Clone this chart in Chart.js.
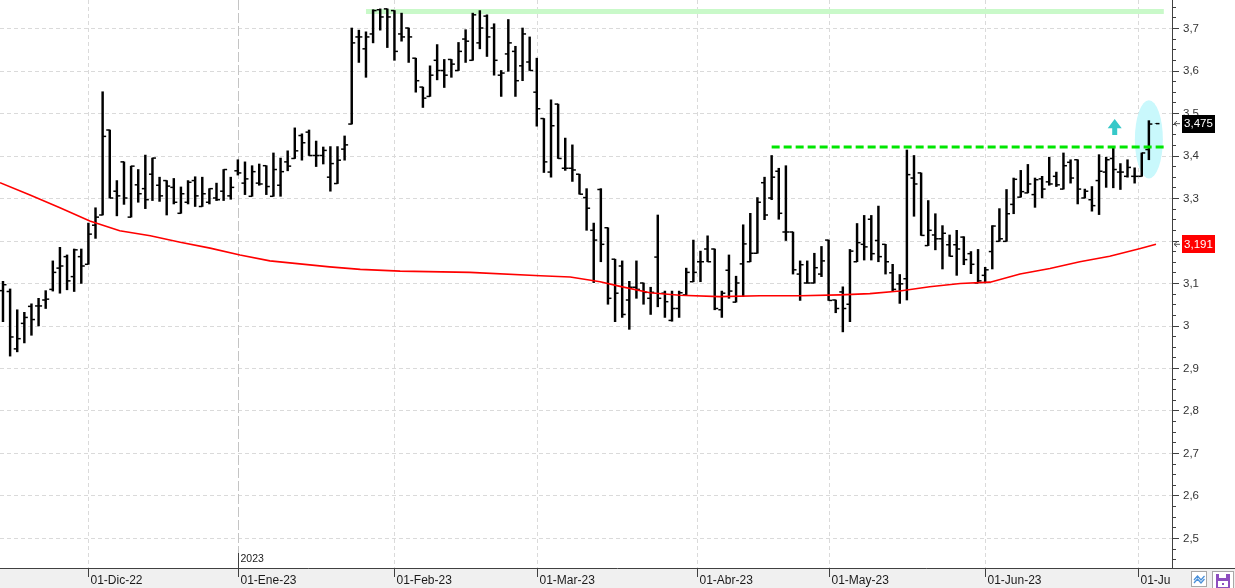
<!DOCTYPE html>
<html><head><meta charset="utf-8">
<script src="https://cdn.jsdelivr.net/npm/chart.js@4.4.0/dist/chart.umd.min.js"></script>
<style>html,body{margin:0;padding:0;background:#fff;overflow:hidden}canvas{display:block}</style>
</head><body>
<canvas id="c" width="1235" height="588"></canvas>
<script>
// ---- data (trading-day index 0 = first bar on the chart) ----
const openP = [3.082,3.080,2.945,3.005,3.045,3.046,3.060,3.085,3.135,3.162,
3.115,3.162,3.144,3.236,3.260,3.460,3.316,3.385,3.255,3.331,
3.322,3.356,3.330,3.341,3.325,3.264,3.290,3.341,3.280,3.290,
3.300,3.316,3.305,3.364,3.335,3.304,3.335,3.376,3.304,3.330,
3.385,3.393,3.447,3.455,3.400,3.400,3.349,3.334,3.415,3.474,
3.679,3.651,3.686,3.743,3.745,3.741,3.686,3.700,3.629,3.561,
3.539,3.624,3.600,3.626,3.600,3.674,3.624,3.665,3.728,3.700,
3.589,3.639,3.645,3.611,3.620,3.549,3.487,3.361,3.521,3.370,
3.370,3.356,3.301,3.224,3.320,3.230,3.156,3.140,3.060,3.090,
3.100,3.064,3.161,3.076,3.012,3.040,3.072,3.103,3.150,3.180,
3.180,3.037,3.130,3.055,3.145,3.150,3.170,3.336,3.300,3.363,
3.220,3.220,3.121,3.100,3.100,3.121,3.201,3.060,3.079,3.050,
3.150,3.191,3.250,3.200,3.191,3.124,3.098,3.110,3.347,3.359,
3.188,3.213,3.204,3.190,3.190,3.208,3.169,3.100,3.118,3.174,
3.198,3.198,3.285,3.302,3.312,3.308,3.345,3.338,3.351,3.321,
3.384,3.390,3.300,3.296,3.341,3.361,3.393,3.361,3.351,3.351,
3.351,3.414,null];
const highP = [3.104,3.086,3.037,3.031,3.051,3.064,3.082,3.152,3.184,3.166,
3.180,3.180,3.241,3.277,3.550,3.460,3.341,3.385,3.375,3.367,
3.401,3.394,3.349,3.341,3.346,3.326,3.341,3.350,3.349,3.322,
3.335,3.367,3.349,3.390,3.385,3.376,3.380,3.376,3.406,3.394,
3.411,3.465,3.451,3.460,3.434,3.420,3.421,3.421,3.446,3.700,
3.695,3.691,3.743,3.745,3.745,3.741,3.735,3.700,3.629,3.561,
3.611,3.661,3.626,3.626,3.666,3.696,3.735,3.741,3.731,3.710,
3.600,3.720,3.657,3.700,3.679,3.629,3.487,3.531,3.521,3.441,
3.425,3.356,3.322,3.241,3.322,3.230,3.156,3.152,3.104,3.152,
3.100,3.090,3.260,3.081,3.081,3.081,3.135,3.201,3.175,3.211,
3.180,3.081,3.166,3.116,3.237,3.264,3.301,3.349,3.400,3.370,
3.376,3.220,3.152,3.152,3.170,3.186,3.201,3.060,3.091,3.179,
3.240,3.259,3.259,3.281,3.191,3.144,3.120,3.413,3.400,3.359,
3.294,3.263,3.235,3.213,3.224,3.209,3.174,3.179,3.137,3.235,
3.275,3.320,3.347,3.365,3.379,3.347,3.351,3.396,3.361,3.406,
3.390,3.390,3.321,3.327,3.402,3.396,3.418,3.381,3.390,3.371,
3.406,3.482,3.475];
const lowP = [3.009,2.928,2.938,2.959,2.977,2.999,3.040,3.081,3.076,3.084,
3.080,3.099,3.144,3.205,3.260,3.300,3.258,3.285,3.255,3.290,
3.275,3.294,3.292,3.260,3.286,3.264,3.286,3.280,3.280,3.286,
3.294,3.294,3.297,3.354,3.308,3.304,3.330,3.308,3.304,3.304,
3.364,3.393,3.389,3.400,3.374,3.380,3.316,3.334,3.389,3.474,
3.619,3.584,3.665,3.695,3.654,3.624,3.669,3.619,3.549,3.513,
3.539,3.578,3.560,3.584,3.600,3.619,3.624,3.651,3.633,3.589,
3.539,3.598,3.539,3.576,3.600,3.469,3.360,3.349,3.393,3.365,
3.339,3.309,3.224,3.101,3.150,3.050,3.009,3.019,2.991,3.064,
3.050,3.026,3.044,3.019,3.010,3.019,3.072,3.103,3.103,3.150,
3.037,3.019,3.064,3.055,3.068,3.150,3.170,3.249,3.296,3.250,
3.200,3.121,3.059,3.100,3.100,3.115,3.059,3.030,2.985,3.009,
3.150,3.154,3.154,3.150,3.121,3.082,3.052,3.060,3.257,3.212,
3.188,3.178,3.133,3.163,3.118,3.143,3.122,3.100,3.100,3.133,
3.198,3.198,3.263,3.302,3.312,3.278,3.300,3.330,3.327,3.321,
3.335,3.286,3.300,3.269,3.261,3.325,3.324,3.320,3.349,3.335,
3.351,3.390,3.475];
const closeP = [3.096,2.973,2.969,3.019,3.014,3.046,3.062,3.125,3.140,3.105,
3.178,3.140,3.215,3.255,3.445,3.300,3.305,3.300,3.375,3.310,
3.296,3.394,3.305,3.328,3.290,3.310,3.337,3.305,3.310,3.322,
3.296,3.367,3.325,3.359,3.345,3.362,3.333,3.327,3.367,3.362,
3.375,3.411,3.430,3.400,3.400,3.412,3.381,3.389,3.425,3.665,
3.679,3.679,3.741,3.726,3.726,3.645,3.679,3.679,3.576,3.535,
3.589,3.600,3.589,3.615,3.645,3.669,3.731,3.700,3.679,3.624,
3.594,3.665,3.576,3.686,3.600,3.510,3.385,3.470,3.393,3.370,
3.366,3.309,3.276,3.201,3.191,3.064,3.076,3.026,3.090,3.085,
3.078,3.078,3.064,3.056,3.040,3.077,3.125,3.125,3.150,3.150,
3.040,3.076,3.081,3.100,3.192,3.170,3.290,3.260,3.349,3.264,
3.220,3.131,3.143,3.100,3.136,3.152,3.059,3.040,3.040,3.175,
3.195,3.185,3.169,3.162,3.150,3.085,3.098,3.355,3.333,3.212,
3.224,3.204,3.217,3.163,3.180,3.155,3.144,3.105,3.131,3.234,
3.204,3.263,3.344,3.315,3.333,3.343,3.321,3.333,3.331,3.376,
3.347,3.321,3.316,3.282,3.363,3.390,3.367,3.361,3.372,3.351,
3.406,3.474,3.475];

// moving average (red), read at sampled positions
const maIdx = [-0.42,3.8,8.0,12.2,16.4,20.7,24.9,29.1,33.3,37.5,41.7,45.9,50.2,55.8,65.6,
75.5,79.7,83.9,86.7,90.9,95.1,100.7,106.4,112,117.6,121.8,126,130.2,134.5,138.7,142.9,147.1,151.3,155.5,159.8,162];
const maVal = [3.336,3.307,3.277,3.246,3.223,3.211,3.196,3.182,3.166,3.152,3.145,3.138,3.132,3.128,3.125,
3.117,3.114,3.103,3.092,3.077,3.071,3.068,3.070,3.070,3.072,3.075,3.081,3.091,3.099,3.102,3.121,3.134,3.150,3.163,3.181,3.191];

// x-axis month marks (trading-day index) and labels
const monthIdx = [12, 33, 55, 75, 97.5, 116, 138, 159.5];
const monthLabels = ['01-Dic-22','01-Ene-23','01-Feb-23','01-Mar-23','01-Abr-23','01-May-23','01-Jun-23','01-Jul-23'];
const yearIdx = 33;
const yearLabel = '2023';

// y-axis labelled ticks
const yTickVals = [2.5,2.6,2.7,2.8,2.9,3.0,3.1,3.2,3.3,3.4,3.5,3.6,3.7];

// annotations (data coordinates)
const topBandIdx = [51, 163.1];
const topBandVal = [3.739, 3.739];
const resistIdx = [108, 163.1];
const resistVal = [3.42, 3.42];
const lastPrice = 3.475;
const lastMA = 3.191;
const arrowIdx = 156.2;
const arrowVals = [3.486, 3.464, 3.448]; // tip, head base, stem bottom
const ellipseIdx = 161;
const ellipseVals = [3.438, 0.092]; // centre, half height

// ---- build ----
const FONT = '"Liberation Sans", Arial, sans-serif';
const rangeData = highP.map((h, i) => ({x: i, y: [lowP[i], h]}));
const openData = openP.map((v, i) => ({x: i, y: v}));
const closeData = closeP.map((v, i) => ({x: i, y: v}));
const maData = maIdx.map((x, i) => ({x, y: maVal[i]}));
const bandData = topBandIdx.map((x, i) => ({x, y: topBandVal[i]}));
const resData = resistIdx.map((x, i) => ({x, y: resistVal[i]}));

function fmt(v) { return String(Number(v.toFixed(3))).replace('.', ','); }

const decor = {
  id: 'decor',
  beforeDatasetsDraw(chart) {
    const {ctx, chartArea: a, scales: {x, y}} = chart;
    ctx.save();
    ctx.lineWidth = 1;
    ctx.strokeStyle = '#dadada';
    ctx.setLineDash([4, 3]);
    for (const v of yTickVals) {
      const py = Math.round(y.getPixelForValue(v)) + 0.5;
      ctx.beginPath(); ctx.moveTo(a.left, py); ctx.lineTo(a.right, py); ctx.stroke();
    }
    monthIdx.forEach(m => {
      if (m === yearIdx) return;
      const px = Math.round(x.getPixelForValue(m)) + 0.5;
      ctx.beginPath(); ctx.moveTo(px, a.top); ctx.lineTo(px, a.bottom); ctx.stroke();
    });
    ctx.strokeStyle = '#c4c4c4';
    ctx.setLineDash([10, 3]);
    const yx = Math.round(x.getPixelForValue(yearIdx)) + 0.5;
    ctx.beginPath(); ctx.moveTo(yx, a.top); ctx.lineTo(yx, a.bottom); ctx.stroke();
    ctx.setLineDash([]);
    // highlight ellipse
    const ex = x.getPixelForValue(ellipseIdx), ey = y.getPixelForValue(ellipseVals[0]);
    const ry = y.getPixelForValue(ellipseVals[0] - ellipseVals[1]) - ey;
    ctx.fillStyle = '#c9f8fc';
    ctx.beginPath(); ctx.ellipse(ex, ey, 14, ry, 0, 0, Math.PI * 2); ctx.fill();
    ctx.restore();
  },
  afterDatasetsDraw(chart) {
    const {ctx, scales: {x, y}} = chart;
    const cx = x.getPixelForValue(arrowIdx);
    const t = y.getPixelForValue(arrowVals[0]), b = y.getPixelForValue(arrowVals[1]), s = y.getPixelForValue(arrowVals[2]);
    ctx.save();
    ctx.fillStyle = '#35c8c8';
    ctx.beginPath();
    ctx.moveTo(cx, t); ctx.lineTo(cx + 7, b); ctx.lineTo(cx + 2.5, b); ctx.lineTo(cx + 2.5, s);
    ctx.lineTo(cx - 2.5, s); ctx.lineTo(cx - 2.5, b); ctx.lineTo(cx - 7, b); ctx.closePath(); ctx.fill();
    ctx.restore();
  },
  afterDraw(chart) {
    const {ctx, chartArea: a, scales: {x, y}, width: W, height: H} = chart;
    ctx.save();
    // bottom band
    ctx.fillStyle = '#f0f0f0';
    ctx.fillRect(0, a.bottom, W, H - a.bottom);
    ctx.strokeStyle = '#404040'; ctx.lineWidth = 1;
    ctx.beginPath(); ctx.moveTo(0, a.bottom + 0.5); ctx.lineTo(W, a.bottom + 0.5); ctx.stroke();
    ctx.beginPath(); ctx.moveTo(a.right + 0.5, 0); ctx.lineTo(a.right + 0.5, a.bottom); ctx.stroke();
    // y ticks (major + 3 minor subdivisions)
    const step = yTickVals[1] - yTickVals[0];
    for (let k = 0; k < yTickVals.length; k++) {
      for (let j = -2; j < 4; j++) {
        const v = yTickVals[k] + j * step / 4;
        if (j < 0 && k > 0) continue;
        if (v > y.max || v < y.min) continue;
        const py = Math.round(y.getPixelForValue(v)) + 0.5;
        ctx.beginPath(); ctx.moveTo(a.right, py); ctx.lineTo(a.right + (j === 0 ? 7 : 4), py); ctx.stroke();
      }
    }
    ctx.fillStyle = '#333';
    ctx.font = '11.5px ' + FONT;
    ctx.textBaseline = 'middle'; ctx.textAlign = 'left';
    for (const v of yTickVals) {
      ctx.fillText(fmt(v), a.right + 11, y.getPixelForValue(v) + 0.5);
    }
    // price boxes
    const box = (v, bg) => {
      const py = y.getPixelForValue(v);
      ctx.fillStyle = bg;
      ctx.fillRect(a.right + 10, Math.round(py) - 9, 33, 18);
      ctx.fillStyle = '#fff';
      ctx.textAlign = 'center';
      ctx.fillText(fmt(v), a.right + 26.5, py + 0.5);
      ctx.strokeStyle = '#555';
      ctx.beginPath();
      ctx.moveTo(a.right + 5, py - 2.5); ctx.lineTo(a.right + 2, py); ctx.lineTo(a.right + 5, py + 2.5);
      ctx.moveTo(a.right + 2, py); ctx.lineTo(a.right + 8, py);
      ctx.stroke();
    };
    box(lastPrice, '#000');
    box(lastMA, '#ff0000');
    // x ticks & labels
    ctx.strokeStyle = '#404040';
    ctx.fillStyle = '#1a1a1a';
    ctx.font = '12px ' + FONT;
    ctx.textAlign = 'left';
    ctx.save();
    ctx.beginPath(); ctx.rect(0, a.bottom, a.right - 2, H - a.bottom); ctx.clip();
    monthIdx.forEach((m, i) => {
      const px = Math.round(x.getPixelForValue(m)) + 0.5;
      ctx.beginPath(); ctx.moveTo(px, a.bottom); ctx.lineTo(px, a.bottom + 9); ctx.stroke();
      ctx.fillText(monthLabels[i], px + 2, a.bottom + 12.5);
    });
    ctx.restore();
    // year marker
    const yx = Math.round(x.getPixelForValue(yearIdx)) + 0.5;
    ctx.strokeStyle = '#404040';
    ctx.beginPath(); ctx.moveTo(yx, a.bottom - 15); ctx.lineTo(yx, a.bottom); ctx.stroke();
    ctx.font = '10.5px ' + FONT;
    ctx.fillStyle = '#1a1a1a';
    ctx.fillText(yearLabel, yx + 2, a.bottom - 8.5);
    // toolbar icons
    ctx.fillStyle = '#fff';
    ctx.fillRect(1191, 571, 16, 16);
    ctx.strokeStyle = '#a8a8a8';
    ctx.strokeRect(1191.5, 571.5, 15, 15);
    ctx.strokeStyle = '#4a90d9'; ctx.lineWidth = 1.3;
    ctx.beginPath(); ctx.moveTo(1194, 580); ctx.lineTo(1197.5, 576); ctx.lineTo(1201, 580); ctx.lineTo(1204.5, 576); ctx.stroke();
    ctx.beginPath(); ctx.moveTo(1194, 583); ctx.lineTo(1197.5, 579); ctx.lineTo(1201, 583); ctx.lineTo(1204.5, 579); ctx.stroke();
    ctx.lineWidth = 1;
    ctx.fillStyle = '#fff';
    ctx.fillRect(1212, 571, 22, 17);
    ctx.strokeStyle = '#a8a8a8';
    ctx.strokeRect(1212.5, 571.5, 21, 17);
    ctx.fillStyle = '#8e4fbf';
    ctx.fillRect(1216, 574, 14, 14);
    ctx.fillStyle = '#fff';
    ctx.fillRect(1219, 574, 7, 4);
    ctx.fillRect(1218, 581, 10, 6);
    ctx.fillStyle = '#8e4fbf';
    ctx.fillRect(1222, 583, 2, 2);
    ctx.restore();
  }
};

new Chart(document.getElementById('c'), {
  type: 'bar',
  data: {
    datasets: [
      {type: 'line', label: 'band', data: bandData, borderColor: '#c9f9c9', borderWidth: 5,
       pointRadius: 0, order: 10, borderCapStyle: 'butt'},
      {type: 'bar', label: 'range', data: rangeData, backgroundColor: '#000', borderWidth: 0,
       barThickness: 1.8, order: 5},
      {type: 'line', label: 'open', data: openData, showLine: false, pointStyle: 'dash',
       pointRotation: 180, pointRadius: 3.5, pointHoverRadius: 3.5, pointBorderColor: '#000',
       pointBorderWidth: 1.5, borderColor: '#000', order: 4},
      {type: 'line', label: 'close', data: closeData, showLine: false, pointStyle: 'dash',
       pointRotation: 0, pointRadius: 3.5, pointHoverRadius: 3.5, pointBorderColor: '#000',
       pointBorderWidth: 1.5, borderColor: '#000', order: 4},
      {type: 'line', label: 'MA', data: maData, borderColor: '#ff0000', borderWidth: 1.6,
       pointRadius: 0, tension: 0, order: 2},
      {type: 'line', label: 'res', data: resData, borderColor: '#00e600', borderWidth: 3,
       borderDash: [8, 4], pointRadius: 0, order: 1}
    ]
  },
  options: {
    responsive: false,
    animation: false,
    events: [],
    layout: {padding: 0, autoPadding: false},
    plugins: {legend: {display: false}, tooltip: {enabled: false}},
    scales: {
      x: {type: 'linear', min: -0.42, max: 164.25, offset: false,
          grid: {display: false}, ticks: {display: false}, border: {display: false},
          afterFit(s) { s.height = 20; }},
      y: {type: 'linear', position: 'right', min: 2.4294, max: 3.7659,
          grid: {display: false}, ticks: {display: false}, border: {display: false},
          afterFit(s) { s.width = 63; }}
    }
  },
  plugins: [decor]
});
</script>
</body></html>
